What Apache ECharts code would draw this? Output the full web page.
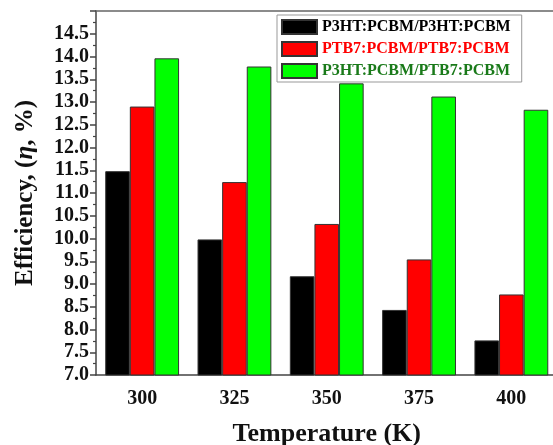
<!DOCTYPE html>
<html>
<head>
<meta charset="utf-8">
<script src="https://cdn.jsdelivr.net/npm/echarts@6/dist/echarts.min.js"></script>
<style>html,body{margin:0;padding:0;background:#fff}#c{width:553px;height:445px}</style>
</head>
<body>
<div id="c"></div>
<script>
const categories = ['300', '325', '350', '375', '400'];
const seriesNames = ['P3HT:PCBM/P3HT:PCBM', 'PTB7:PCBM/PTB7:PCBM', 'P3HT:PCBM/PTB7:PCBM'];
const p3htP3ht = [11.48, 9.98, 9.17, 8.43, 7.76];
const ptb7Ptb7 = [12.90, 11.24, 10.32, 9.54, 8.77];
const p3htPtb7 = [13.96, 13.78, 13.41, 13.12, 12.83];
const barColors = ['#000000', '#ff0000', '#00ff00'];
const legendTextColors = ['#000000', '#ff0000', '#1a7a1a'];

const FONT = '"Liberation Serif", "Times New Roman", serif';
const chart = echarts.init(document.getElementById('c'));
const axisColor = '#444';
const allData = [p3htP3ht, ptb7Ptb7, p3htPtb7];

chart.setOption({
  animation: false,
  backgroundColor: '#fff',
  grid: { left: 96, right: -4.5, top: 11, bottom: 70, containLabel: false, outerBoundsMode: 'none' },
  legend: {
    orient: 'vertical',
    left: 277, top: 15,
    padding: [4, 11, 3, 4],
    icon: 'rect',
    itemWidth: 35, itemHeight: 14, itemGap: 6,
    borderColor: '#999', borderWidth: 1,
    backgroundColor: '#fff',
    data: seriesNames.map((n, i) => ({
      name: n,
      textStyle: { color: legendTextColors[i] }
    })),
    textStyle: { fontFamily: FONT, fontWeight: 'bold', fontSize: 16 }
  },
  xAxis: [
    {
      type: 'category', data: categories, position: 'bottom',
      axisLine: { lineStyle: { color: axisColor, width: 1.5 } },
      axisTick: { alignWithLabel: true, length: 6, lineStyle: { color: axisColor, width: 1.5 } },
      axisLabel: { fontFamily: FONT, fontWeight: 'bold', fontSize: 20, color: '#111', margin: 14 },
      name: 'Temperature (K)', nameLocation: 'middle', nameGap: 46,
      nameTextStyle: { fontFamily: FONT, fontWeight: 'bold', fontSize: 26, color: '#111' }
    },
    {
      type: 'category', data: categories, position: 'bottom',
      axisLine: { show: false },
      axisTick: { length: 4, lineStyle: { color: axisColor, width: 1.5 } },
      axisLabel: { show: false }
    },
    {
      type: 'category', data: categories, position: 'top',
      axisLine: { lineStyle: { color: '#666', width: 1.5 } },
      axisTick: { show: false }, axisLabel: { show: false }
    }
  ],
  yAxis: {
    type: 'value', min: 7, max: 15, interval: 0.5,
    axisLine: { show: true, lineStyle: { color: axisColor, width: 1.5 } },
    axisTick: { show: true, length: 6, lineStyle: { color: axisColor, width: 1.5 } },
    minorTick: { show: true, splitNumber: 2, length: 3, lineStyle: { color: axisColor, width: 1.2 } },
    splitLine: { show: false },
    axisLabel: {
      fontFamily: FONT, fontWeight: 'bold', fontSize: 20, color: '#111', margin: 7,
      showMaxLabel: false,
      formatter: v => v.toFixed(1)
    },
    name: '{a|Efficiency, (}{i|η}{a|, %)}',
    nameLocation: 'middle', nameGap: 58, nameRotate: 90,
    nameTextStyle: {
      rich: {
        a: { fontFamily: FONT, fontWeight: 'bold', fontSize: 25, color: '#111' },
        i: { fontFamily: FONT, fontWeight: 'bold', fontStyle: 'italic', fontSize: 25, color: '#111' }
      }
    }
  },
  series: seriesNames.map((n, i) => ({
    name: n, type: 'bar', xAxisIndex: 0,
    data: allData[i],
    barGap: '0%', barCategoryGap: '20%',
    itemStyle: { color: barColors[i], borderColor: '#333', borderWidth: 1 }
  }))
});
</script>
</body>
</html>
